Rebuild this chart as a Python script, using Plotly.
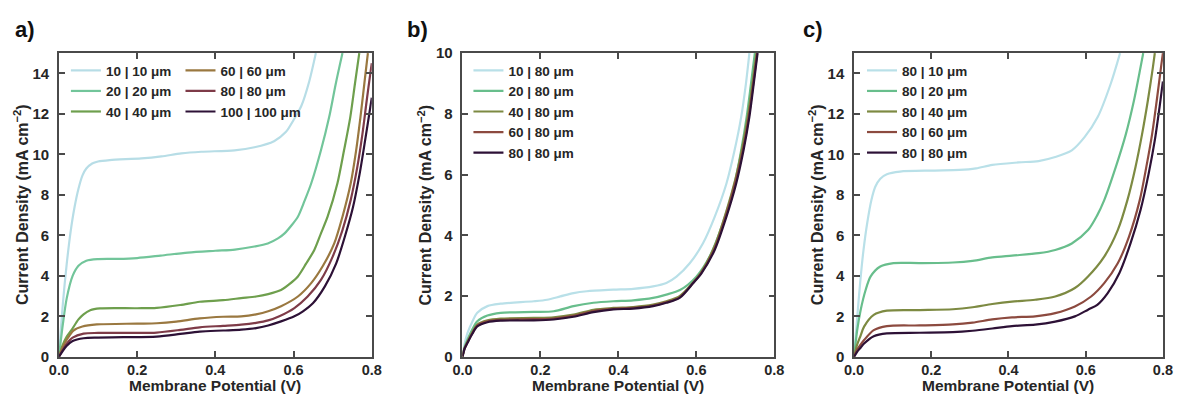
import plotly.graph_objects as go

W, H = 1183, 401
# Measured placement of the figure in the photographed page: the page keeps an
# 8 px body margin and the capture is scaled back to the window size.
OFF = 8
SX, SY = 1183 / 1199, 401 / 417

# ---------------- data ----------------
# Panel a)  channel | rib widths
A_LABELS = ["10 | 10 μm", "20 | 20 μm", "40 | 40 μm", "60 | 60 μm", "80 | 80 μm", "100 | 100 μm"]
A_COLORS = ["#b7dde6", "#72c59a", "#6e9f4d", "#9a7840", "#7e3b48", "#2d1136"]

A10_V = [0, 0.01, 0.02, 0.03, 0.04, 0.05, 0.06, 0.07, 0.085, 0.1, 0.13, 0.211, 0.262, 0.313, 0.364, 0.449, 0.5, 0.55, 0.58, 0.6, 0.62, 0.64, 0.657]
A10_J = [0, 2.6, 4.6, 6.2, 7.4, 8.3, 8.95, 9.3, 9.55, 9.65, 9.72, 9.8, 9.9, 10.05, 10.13, 10.2, 10.35, 10.65, 11.1, 11.7, 12.4, 13.6, 15.0]

A20_V = [0, 0.01, 0.02, 0.035, 0.05, 0.07, 0.1, 0.15, 0.2, 0.26, 0.33, 0.4, 0.45, 0.5, 0.534, 0.56, 0.577, 0.595, 0.611, 0.628, 0.645, 0.67, 0.691, 0.708, 0.725]
A20_J = [0, 1.6, 2.9, 4.0, 4.5, 4.75, 4.83, 4.84, 4.88, 5.0, 5.15, 5.24, 5.3, 5.45, 5.6, 5.85, 6.1, 6.5, 6.92, 7.7, 8.56, 10.2, 11.84, 13.5, 15.0]

A40_V = [0, 0.01, 0.02, 0.033, 0.05, 0.063, 0.08, 0.105, 0.2, 0.25, 0.31, 0.36, 0.42, 0.466, 0.504, 0.535, 0.568, 0.59, 0.611, 0.632, 0.653, 0.67, 0.687, 0.712, 0.729, 0.745, 0.757, 0.768]
A40_J = [0, 0.6, 1.0, 1.35, 1.85, 2.1, 2.3, 2.39, 2.4, 2.42, 2.56, 2.72, 2.8, 2.9, 2.98, 3.1, 3.3, 3.6, 3.97, 4.6, 5.28, 6.1, 6.92, 8.56, 10.2, 11.84, 13.5, 15.0]

A60_V = [0, 0.01, 0.02, 0.037, 0.06, 0.097, 0.2, 0.25, 0.3, 0.36, 0.42, 0.466, 0.504, 0.535, 0.568, 0.611, 0.645, 0.674, 0.704, 0.725, 0.746, 0.76, 0.771, 0.781, 0.79]
A60_J = [0, 0.5, 0.85, 1.3, 1.5, 1.6, 1.64, 1.66, 1.74, 1.9, 1.98, 2.0, 2.1, 2.25, 2.5, 2.98, 3.64, 4.46, 5.6, 6.92, 8.56, 10.2, 11.84, 13.5, 15.0]

A80_V = [0, 0.01, 0.02, 0.035, 0.063, 0.1, 0.2, 0.25, 0.31, 0.36, 0.42, 0.466, 0.504, 0.535, 0.565, 0.602, 0.636, 0.67, 0.7, 0.725, 0.746, 0.763, 0.776, 0.787, 0.797, 0.8]
A80_J = [0, 0.35, 0.65, 0.95, 1.15, 1.18, 1.18, 1.2, 1.33, 1.46, 1.53, 1.59, 1.68, 1.8, 2.02, 2.41, 2.98, 3.8, 4.95, 6.26, 7.74, 9.38, 11.0, 12.66, 14.1, 14.5]

A100_V = [0, 0.01, 0.02, 0.035, 0.063, 0.1, 0.165, 0.25, 0.31, 0.36, 0.42, 0.466, 0.504, 0.535, 0.568, 0.602, 0.624, 0.65, 0.68, 0.709, 0.731, 0.752, 0.769, 0.783, 0.796, 0.8]
A100_J = [0, 0.3, 0.55, 0.78, 0.92, 0.95, 0.97, 1.0, 1.13, 1.25, 1.3, 1.34, 1.42, 1.55, 1.75, 2.0, 2.25, 2.66, 3.48, 4.62, 5.93, 7.4, 9.05, 10.7, 12.3, 12.8]

# Panel b)  varying channel, rib 80 µm
B_LABELS = ["10 | 80 μm", "20 | 80 μm", "40 | 80 μm", "60 | 80 μm", "80 | 80 μm"]
BC_COLORS = ["#b9e0e8", "#68be8c", "#7d8a42", "#8c4a3f", "#2d1136"]

B10_V = [0, 0.005, 0.013, 0.025, 0.038, 0.064, 0.098, 0.183, 0.217, 0.251, 0.285, 0.319, 0.387, 0.438, 0.489, 0.523, 0.549, 0.583, 0.617, 0.647, 0.677, 0.698, 0.715, 0.727, 0.736]
B10_J = [0, 0.4, 0.79, 1.15, 1.45, 1.67, 1.75, 1.83, 1.88, 1.99, 2.1, 2.16, 2.21, 2.24, 2.32, 2.43, 2.64, 3.08, 3.74, 4.61, 5.7, 6.8, 7.9, 8.98, 10.0]

B20_V = [0, 0.005, 0.013, 0.025, 0.038, 0.064, 0.098, 0.183, 0.234, 0.285, 0.336, 0.387, 0.438, 0.489, 0.523, 0.558, 0.6, 0.634, 0.668, 0.698, 0.715, 0.729, 0.74, 0.75]
B20_J = [0, 0.3, 0.57, 0.9, 1.17, 1.36, 1.45, 1.48, 1.5, 1.67, 1.78, 1.83, 1.86, 1.94, 2.05, 2.2, 2.64, 3.3, 4.4, 5.7, 6.8, 7.9, 8.98, 10.0]

B40_V = [0, 0.005, 0.013, 0.025, 0.038, 0.064, 0.098, 0.183, 0.234, 0.285, 0.336, 0.387, 0.438, 0.489, 0.523, 0.557, 0.592, 0.613, 0.647, 0.677, 0.7, 0.718, 0.733, 0.744, 0.754]
B40_J = [0, 0.27, 0.5, 0.8, 1.06, 1.2, 1.26, 1.28, 1.3, 1.39, 1.55, 1.61, 1.64, 1.72, 1.83, 2.0, 2.45, 2.8, 3.65, 4.8, 5.85, 6.9, 8.0, 9.0, 10.0]

B60_V = [0, 0.005, 0.013, 0.025, 0.038, 0.064, 0.098, 0.183, 0.234, 0.285, 0.336, 0.387, 0.438, 0.489, 0.523, 0.557, 0.592, 0.613, 0.647, 0.677, 0.7, 0.72, 0.735, 0.746, 0.756]
B60_J = [0, 0.26, 0.48, 0.77, 1.03, 1.17, 1.22, 1.24, 1.26, 1.35, 1.51, 1.58, 1.61, 1.69, 1.8, 1.96, 2.44, 2.77, 3.58, 4.7, 5.75, 6.85, 7.95, 9.0, 10.0]

B80_V = [0, 0.005, 0.013, 0.025, 0.038, 0.064, 0.098, 0.183, 0.234, 0.285, 0.336, 0.387, 0.438, 0.489, 0.523, 0.557, 0.592, 0.613, 0.647, 0.677, 0.702, 0.721, 0.736, 0.747, 0.757]
B80_J = [0, 0.25, 0.46, 0.75, 1.0, 1.14, 1.19, 1.2, 1.23, 1.32, 1.47, 1.56, 1.59, 1.67, 1.78, 1.94, 2.43, 2.75, 3.52, 4.61, 5.7, 6.8, 7.9, 8.98, 10.0]

# Panel c)  channel 80 µm, varying rib
C_LABELS = ["80 | 10 μm", "80 | 20 μm", "80 | 40 μm", "80 | 60 μm", "80 | 80 μm"]

C10_V = [0, 0.008, 0.016, 0.024, 0.034, 0.045, 0.055, 0.068, 0.085, 0.119, 0.205, 0.273, 0.316, 0.358, 0.426, 0.478, 0.521, 0.564, 0.597, 0.631, 0.665, 0.689]
C10_J = [0, 1.9, 3.7, 5.2, 6.6, 7.75, 8.4, 8.8, 9.02, 9.15, 9.2, 9.23, 9.31, 9.48, 9.6, 9.67, 9.87, 10.2, 10.85, 11.84, 13.5, 15.0]

C20_V = [0, 0.008, 0.017, 0.03, 0.043, 0.068, 0.102, 0.17, 0.256, 0.307, 0.358, 0.409, 0.478, 0.521, 0.564, 0.606, 0.63, 0.648, 0.678, 0.704, 0.725, 0.742, 0.749]
C20_J = [0, 1.3, 2.3, 3.3, 3.97, 4.46, 4.63, 4.63, 4.66, 4.74, 4.91, 5.0, 5.12, 5.28, 5.6, 6.26, 7.0, 7.74, 9.38, 11.0, 12.66, 14.3, 15.0]

C40_V = [0, 0.008, 0.017, 0.026, 0.051, 0.085, 0.17, 0.256, 0.307, 0.358, 0.409, 0.469, 0.521, 0.572, 0.606, 0.648, 0.683, 0.708, 0.729, 0.746, 0.761, 0.774, 0.779]
C40_J = [0, 0.6, 1.05, 1.49, 2.07, 2.28, 2.31, 2.35, 2.45, 2.61, 2.73, 2.82, 2.98, 3.4, 3.97, 4.95, 6.26, 7.74, 9.38, 11.0, 12.66, 14.3, 15.0]

C60_V = [0, 0.008, 0.017, 0.026, 0.051, 0.085, 0.17, 0.256, 0.307, 0.358, 0.409, 0.469, 0.521, 0.572, 0.614, 0.648, 0.683, 0.712, 0.74, 0.757, 0.772, 0.784, 0.795, 0.8]
C60_J = [0, 0.35, 0.6, 0.83, 1.32, 1.52, 1.55, 1.6, 1.69, 1.85, 1.95, 2.0, 2.16, 2.49, 2.98, 3.64, 4.62, 5.93, 7.74, 9.38, 11.0, 12.66, 14.3, 15.0]

C80_V = [0, 0.008, 0.017, 0.026, 0.051, 0.085, 0.17, 0.256, 0.307, 0.358, 0.409, 0.469, 0.521, 0.572, 0.606, 0.63, 0.657, 0.687, 0.716, 0.742, 0.763, 0.779, 0.791, 0.8]
C80_J = [0, 0.25, 0.45, 0.66, 1.02, 1.16, 1.19, 1.22, 1.29, 1.4, 1.52, 1.59, 1.74, 2.0, 2.33, 2.57, 3.15, 4.13, 5.6, 7.25, 9.05, 10.7, 12.3, 13.6]

X_TICKS = [0.0, 0.2, 0.4, 0.6, 0.8]
Y_TICKS_AC = [0, 2, 4, 6, 8, 10, 12, 14]
Y_TICKS_B = [0, 2, 4, 6, 8, 10]

# ---------------- figure ----------------
FONT = "Liberation Sans, Arial, Helvetica, sans-serif"
TXT = "#262626"
FRAME = "#4a4a4a"

def px_x(t):
    # target picture pixel -> paper fraction
    return (t / SX - OFF) / W

def px_y(t):
    return 1 - (t / SY - OFF) / H

panels = [
    dict(x0=57, x1=371, ymax=15, yt=Y_TICKS_AC, lab="a)", labx=11),
    dict(x0=462, x1=775, ymax=10, yt=Y_TICKS_B, lab="b)", labx=404),
    dict(x0=855, x1=1165, ymax=15, yt=Y_TICKS_AC, lab="c)", labx=802),
]
TOP, BOT = 52, 357

fig = go.Figure()

series = [
    (1, "legend", A10_V, A10_J, A_LABELS[0], A_COLORS[0]),
    (1, "legend", A20_V, A20_J, A_LABELS[1], A_COLORS[1]),
    (1, "legend", A40_V, A40_J, A_LABELS[2], A_COLORS[2]),
    (1, "legend4", A60_V, A60_J, A_LABELS[3], A_COLORS[3]),
    (1, "legend4", A80_V, A80_J, A_LABELS[4], A_COLORS[4]),
    (1, "legend4", A100_V, A100_J, A_LABELS[5], A_COLORS[5]),
    (2, "legend2", B10_V, B10_J, B_LABELS[0], BC_COLORS[0]),
    (2, "legend2", B20_V, B20_J, B_LABELS[1], BC_COLORS[1]),
    (2, "legend2", B40_V, B40_J, B_LABELS[2], BC_COLORS[2]),
    (2, "legend2", B60_V, B60_J, B_LABELS[3], BC_COLORS[3]),
    (2, "legend2", B80_V, B80_J, B_LABELS[4], BC_COLORS[4]),
    (3, "legend3", C10_V, C10_J, C_LABELS[0], BC_COLORS[0]),
    (3, "legend3", C20_V, C20_J, C_LABELS[1], BC_COLORS[1]),
    (3, "legend3", C40_V, C40_J, C_LABELS[2], BC_COLORS[2]),
    (3, "legend3", C60_V, C60_J, C_LABELS[3], BC_COLORS[3]),
    (3, "legend3", C80_V, C80_J, C_LABELS[4], BC_COLORS[4]),
]

for idx, leg, v, j, name, col in series:
    sfx = "" if idx == 1 else str(idx)
    fig.add_trace(go.Scatter(
        x=v, y=j, name=name, mode="lines",
        line=dict(color=col, width=2.2, shape="spline", smoothing=0.8),
        xaxis="x" + sfx, yaxis="y" + sfx, legend=leg, cliponaxis=True,
    ))

layout = dict(
    width=W, height=H,
    margin=dict(l=0, r=0, t=0, b=0),
    paper_bgcolor="white", plot_bgcolor="white",
    font=dict(family=FONT, size=14, color=TXT, weight="bold"),
    showlegend=True,
)

axis_common = dict(
    showgrid=False, zeroline=False, showline=True, mirror="ticks",
    linecolor=FRAME, linewidth=1.5, ticks="inside", ticklen=6, tickwidth=1.5,
    tickcolor=FRAME,
)

for i, p in enumerate(panels, start=1):
    sfx = "" if i == 1 else str(i)
    layout["xaxis" + sfx] = dict(
        axis_common, domain=[px_x(p["x0"]), px_x(p["x1"])], range=[0, 0.8],
        tickvals=X_TICKS, ticktext=[f"{t:.1f}" for t in X_TICKS],
        anchor="y" + sfx, ticklabelstandoff=-1,
        tickfont=dict(family=FONT, size=14.5, color=TXT, weight="bold"),
    )
    layout["yaxis" + sfx] = dict(
        axis_common, domain=[px_y(BOT), px_y(TOP)], range=[0, p["ymax"]],
        tickvals=p["yt"], ticktext=[str(t) for t in p["yt"]],
        anchor="x" + sfx, ticklabelstandoff=5,
        tickfont=dict(family=FONT, size=15, color=TXT, weight="bold"),
    )

leg_common = dict(
    bgcolor="rgba(0,0,0,0)", borderwidth=0, xanchor="left", yanchor="top",
    font=dict(family=FONT, size=13.5, color=TXT, weight="bold"),
    tracegroupgap=0, itemwidth=30,
)
LEG_TOP = 54
layout["legend"] = dict(leg_common, x=px_x(64), y=px_y(LEG_TOP))
layout["legend4"] = dict(leg_common, x=px_x(179), y=px_y(LEG_TOP))
layout["legend2"] = dict(leg_common, x=px_x(468), y=px_y(LEG_TOP))
layout["legend3"] = dict(leg_common, x=px_x(863), y=px_y(LEG_TOP))

annotations = []
for p in panels:
    cx = (p["x0"] + p["x1"]) / 2
    annotations.append(dict(
        text="Membrane Potential (V)", x=px_x(cx), y=-0.004, xref="paper", yref="paper",
        xanchor="center", yanchor="bottom", showarrow=False, borderpad=0,
        font=dict(family=FONT, size=15.5, color=TXT, weight="bold"),
    ))
    annotations.append(dict(
        text="Current Density (mA cm<sup>−2</sup>)", x=px_x(p["x0"] - 38), y=px_y((TOP + BOT) / 2),
        xref="paper", yref="paper", xanchor="center", yanchor="middle", textangle=-90,
        showarrow=False, font=dict(family=FONT, size=16, color=TXT, weight="bold"),
    ))
    annotations.append(dict(
        text=p["lab"], x=px_x(p["labx"]), y=px_y(28), xref="paper", yref="paper",
        xanchor="left", yanchor="middle", showarrow=False,
        font=dict(family=FONT, size=22, color="#111111", weight="bold"),
    ))
layout["annotations"] = annotations

fig.update_layout(**layout)
fig.write_html("out.html")
